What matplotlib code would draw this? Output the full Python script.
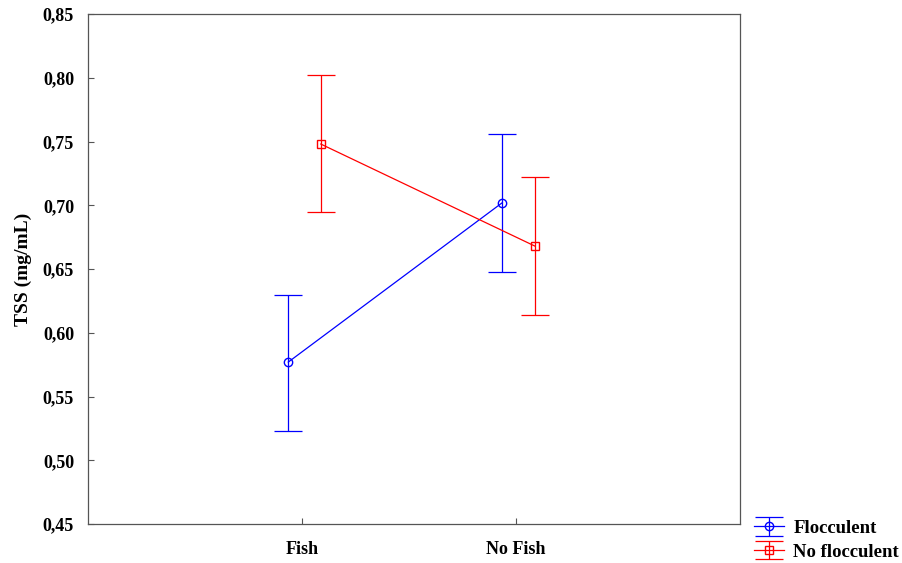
import matplotlib
matplotlib.use("Agg")
import matplotlib.pyplot as plt
import numpy as np

# Data
groups = ["Fish", "No Fish"]
series = ["Flocculent", "No flocculent"]
floc_mean = [0.577, 0.702]
floc_upper = [0.630, 0.756]
floc_lower = [0.523, 0.648]
nofloc_mean = [0.748, 0.668]
nofloc_upper = [0.802, 0.722]
nofloc_lower = [0.695, 0.614]
yticks = [0.45, 0.50, 0.55, 0.60, 0.65, 0.70, 0.75, 0.80, 0.85]

plt.rcParams['font.family'] = ['Liberation Serif', 'DejaVu Serif']

fig = plt.figure(figsize=(9.02, 5.63), dpi=100)
ax = fig.add_axes([88 / 902, 1 - 524 / 563, (740 - 88) / 902, (524 - 14) / 563])

x = np.arange(len(groups))

def draw(offset, mean, lower, upper, color, marker, label):
    mean = np.array(mean)
    err = [mean - np.array(lower), np.array(upper) - mean]
    ax.errorbar(x + offset, mean, yerr=err, color=color, marker=marker,
                markersize=6, markerfacecolor='none', markeredgecolor=color,
                linewidth=0.9, elinewidth=0.9, capsize=10, capthick=0.9,
                label=label)

draw(-0.064, floc_mean, floc_lower, floc_upper, 'blue', 'o', series[0])
draw(0.088, nofloc_mean, nofloc_lower, nofloc_upper, 'red', 's', series[1])

ax.set_xlim(-1, 2.047)
ax.set_ylim(0.45, 0.85)
ax.set_xticks(x)
ax.set_xticklabels(groups, fontsize=13, fontweight='bold')
ax.set_yticks(yticks)
ax.set_yticklabels([f"{v:.2f}".replace('.', ',') for v in yticks],
                   fontsize=13, fontweight='bold')
ax.tick_params(direction='in', length=4, width=0.8, color='#555555', pad=10)
ax.tick_params(axis='x', pad=12)
for s in ax.spines.values():
    s.set_color('#555555')
    s.set_linewidth(0.9)
ax.set_ylabel("TSS (mg/mL)", fontsize=14, fontweight='bold', labelpad=8)

ax.legend(loc='upper left', bbox_to_anchor=(1.01, 0.023), frameon=False,
          prop={'size': 13.5, 'weight': 'bold'}, handlelength=1.6,
          labelspacing=0.35, handletextpad=0.5, borderaxespad=0)

fig.savefig("out.png", dpi=100)
